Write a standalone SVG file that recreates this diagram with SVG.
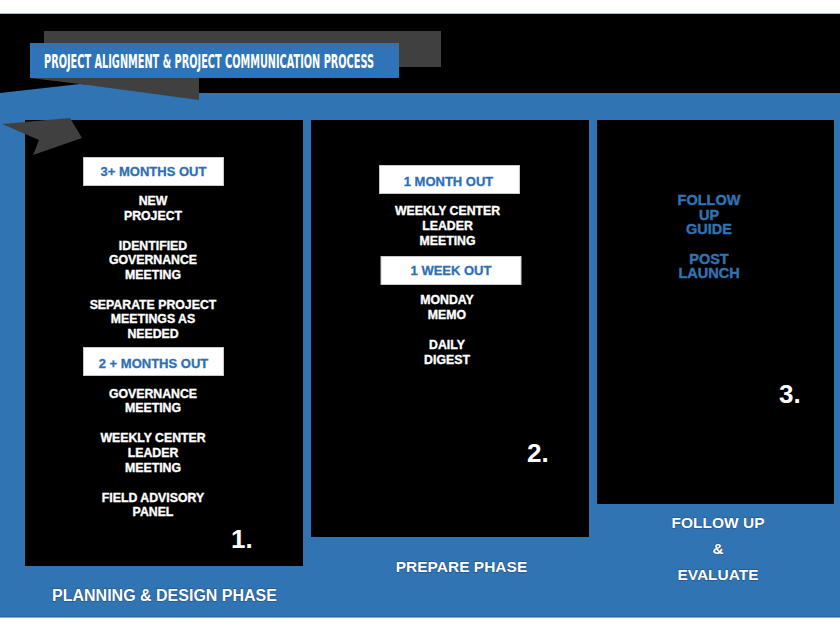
<svg xmlns="http://www.w3.org/2000/svg" width="840" height="630" viewBox="0 0 840 630">
<style>
.blue{fill:#3174b4}
.gray{fill:#404040}
.panel{fill:#000000}
.box{fill:#ffffff;stroke:#c8c8c8;stroke-width:1}
.t{font-family:"Liberation Sans",Arial,sans-serif;font-weight:bold;text-anchor:middle}
.w{fill:#ffffff;font-size:12.3px;stroke:#ffffff;stroke-width:0.35}
.bt{fill:#2e6fb4;font-size:13px;stroke:#2e6fb4;stroke-width:0.3}
.b3{fill:#3174b4;font-size:14.5px;stroke:#3174b4;stroke-width:0.4}
.num{fill:#ffffff;font-size:26px;text-anchor:start}
.ph{fill:#ffffff;font-size:15.5px;stroke:#1d4a78;stroke-width:1;paint-order:stroke}
.title{font-family:"Liberation Sans Narrow","DejaVu Sans Condensed","Liberation Sans",sans-serif;font-weight:bold;font-stretch:condensed;fill:#ffffff;font-size:20px}
</style>
<rect x="0" y="0" width="840" height="630" fill="#ffffff"/>
<g id="background">
<rect x="0" y="13" width="840" height="1" fill="#a9bdd2"/>
<rect x="0" y="14" width="840" height="80" fill="#000000"/>
<polygon class="blue" points="0,93 80,84 199,93 840,93 840,617 0,617"/>
<rect x="0" y="616" width="840" height="1.5" fill="#2a68a3"/>
</g>
<g id="title-banner">
<rect class="gray" x="44" y="31" width="397" height="36"/>
<polygon class="gray" points="30,78 199,78 199,100 80,84"/>
<rect x="30" y="43" width="369" height="35" fill="#2f74b8"/>
<text class="title" x="44" y="67.5" textLength="330" lengthAdjust="spacingAndGlyphs">PROJECT ALIGNMENT &amp; PROJECT COMMUNICATION PROCESS</text>
</g>
<g id="panel-1">
<rect class="panel" x="25" y="120" width="278" height="446"/>
<rect class="box" x="83.5" y="157.5" width="140" height="28"/>
<text class="t bt" x="153.5" y="175.5">3+ MONTHS OUT</text>
<text class="t w" x="153" y="205">NEW</text>
<text class="t w" x="153" y="219.5">PROJECT</text>
<text class="t w" x="153" y="249.5">IDENTIFIED</text>
<text class="t w" x="153" y="264">GOVERNANCE</text>
<text class="t w" x="153" y="278.5">MEETING</text>
<text class="t w" x="153" y="308.5">SEPARATE PROJECT</text>
<text class="t w" x="153" y="323.3">MEETINGS AS</text>
<text class="t w" x="153" y="338">NEEDED</text>
<rect class="box" x="83.5" y="347.5" width="140" height="28"/>
<text class="t bt" x="153.5" y="367.5">2 + MONTHS OUT</text>
<text class="t w" x="153" y="397.5">GOVERNANCE</text>
<text class="t w" x="153" y="412.3">MEETING</text>
<text class="t w" x="153" y="442.3">WEEKLY CENTER</text>
<text class="t w" x="153" y="457">LEADER</text>
<text class="t w" x="153" y="471.7">MEETING</text>
<text class="t w" x="153" y="501.7">FIELD ADVISORY</text>
<text class="t w" x="153" y="516.3">PANEL</text>
<text class="t num" x="231" y="547.5">1.</text>
<polygon class="gray" points="2,124 70,118 82,138 33,155 39,140"/>
</g>
<g id="panel-2">
<rect class="panel" x="311" y="120" width="278" height="417"/>
<rect class="box" x="379.5" y="165.5" width="140" height="28"/>
<text class="t bt" x="448.5" y="185.5">1 MONTH OUT</text>
<text class="t w" x="447.5" y="215.3">WEEKLY CENTER</text>
<text class="t w" x="447.5" y="230.3">LEADER</text>
<text class="t w" x="447.5" y="245">MEETING</text>
<rect class="box" x="381" y="256.5" width="140" height="28"/>
<text class="t bt" x="451" y="274.7">1 WEEK OUT</text>
<text class="t w" x="447" y="304.3">MONDAY</text>
<text class="t w" x="447" y="319.3">MEMO</text>
<text class="t w" x="447" y="349">DAILY</text>
<text class="t w" x="447" y="364">DIGEST</text>
<text class="t num" x="527" y="462">2.</text>
</g>
<g id="panel-3">
<rect class="panel" x="597" y="120" width="237" height="384"/>
<text class="t b3" x="709" y="205">FOLLOW</text>
<text class="t b3" x="709" y="219.5">UP</text>
<text class="t b3" x="709" y="234">GUIDE</text>
<text class="t b3" x="709" y="263.5">POST</text>
<text class="t b3" x="709" y="278">LAUNCH</text>
<text class="t num" x="779" y="403">3.</text>
</g>
<g id="phase-labels">
<text class="t ph" x="164.5" y="601" style="font-size:16px">PLANNING &amp; DESIGN PHASE</text>
<text class="t ph" x="461.5" y="572">PREPARE PHASE</text>
<text class="t ph" x="718" y="528">FOLLOW UP</text>
<text class="t ph" x="718" y="554">&amp;</text>
<text class="t ph" x="718" y="580">EVALUATE</text>
</g>
</svg>
